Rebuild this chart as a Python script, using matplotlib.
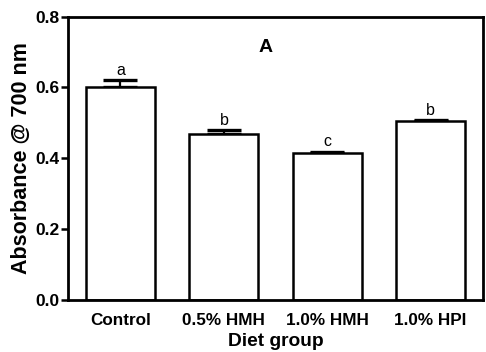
import matplotlib
matplotlib.use("Agg")
import matplotlib.pyplot as plt

categories = ["Control", "0.5% HMH", "1.0% HMH", "1.0% HPI"]
means = [0.600, 0.468, 0.415, 0.506]
errors = [0.022, 0.013, 0.004, 0.003]
letters = ["a", "b", "c", "b"]
yticks = [0.0, 0.2, 0.4, 0.6, 0.8]

plt.rcParams['font.family'] = ['Liberation Sans', 'DejaVu Sans']

fig = plt.figure(figsize=(4.86, 3.52), dpi=100)
ax = fig.add_axes([0.1405, 0.1477, 0.853, 0.805])

x = list(range(len(categories)))
ax.errorbar(x, means, yerr=[[0] * len(means), errors], fmt='none', ecolor='black',
            elinewidth=1.6, capsize=12.5, capthick=2.4, zorder=1)
ax.bar(x, means, width=0.667, color='white', edgecolor='black', linewidth=1.8, zorder=2)
for xi, m, e, l in zip(x, means, errors, letters):
    ax.text(xi, m + e + 0.006, l, ha='center', va='bottom', fontsize=11.5)

ax.text(1.4, 0.712, "A", ha='center', va='center', fontsize=14, fontweight='bold')

ax.set_xlim(-0.505, 3.505)
ax.set_ylim(0, 0.8)
ax.set_yticks(yticks)
ax.set_yticklabels([f"{t:.1f}" for t in yticks], fontsize=12.5, fontweight='bold')
ax.set_xticks(x)
ax.set_xticklabels(categories, fontsize=12.3, fontweight='bold')
ax.tick_params(axis='x', length=0, pad=9)
ax.tick_params(axis='y', length=5, width=1.8, direction='out', pad=1)
for s in ax.spines.values():
    s.set_linewidth(2)
ax.set_xlabel("Diet group", fontsize=13.8, fontweight='bold', labelpad=4)
ax.set_ylabel("Absorbance @ 700 nm", fontsize=15.5, fontweight='bold', labelpad=3)

fig.savefig("out.png", dpi=100)
